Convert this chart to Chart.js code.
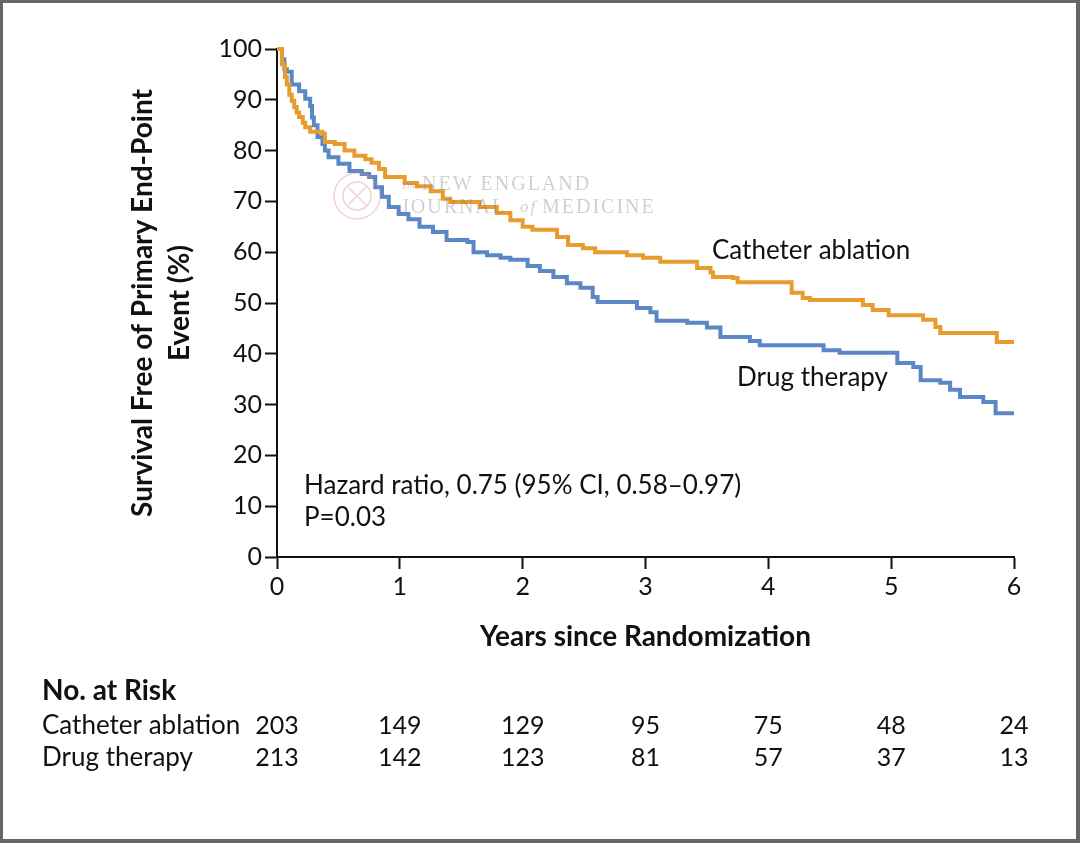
<!DOCTYPE html>
<html>
<head>
<meta charset="utf-8">
<script src="https://cdn.jsdelivr.net/npm/chart.js@4"></script>
<style>
  html, body { margin: 0; padding: 0; background: #fff; }
  #wrap { width: 1080px; height: 843px; }
</style>
</head>
<body>
<div id="wrap"><canvas id="km" width="1080" height="843"></canvas></div>
<script>
// Kaplan-Meier curves (years, % event-free)
let ablationTimes = [0, 0.04, 0.065, 0.08, 0.1, 0.12, 0.14, 0.16, 0.18, 0.21, 0.23, 0.27, 0.37, 0.39, 0.47, 0.55, 0.63, 0.72, 0.77, 0.83, 0.88, 1.04, 1.14, 1.25, 1.35, 1.41, 1.65, 1.79, 1.9, 2.0, 2.08, 2.28, 2.37, 2.49, 2.59, 2.85, 2.98, 3.12, 3.42, 3.53, 3.55, 3.71, 3.75, 4.19, 4.28, 4.34, 4.77, 4.85, 4.98, 5.26, 5.36, 5.4, 5.86, 6.0];
let ablationSurvival = [100, 97, 94.5, 93, 91, 89.8, 88.6, 87.5, 86.6, 85.5, 84.6, 83.7, 83.3, 81.7, 81.3, 80, 79, 78.3, 77.6, 76.4, 74.8, 73.6, 73.0, 72.0, 70.5, 69.9, 68.9, 67.7, 66.3, 65.0, 64.4, 63.0, 61.4, 60.8, 60.0, 59.4, 58.9, 58.1, 56.9, 56.0, 55.1, 54.9, 54.1, 52.0, 51.0, 50.6, 49.6, 48.6, 47.6, 46.7, 45.3, 44.1, 42.3, 42.3];

let drugTimes = [0, 0.04, 0.06, 0.08, 0.12, 0.18, 0.23, 0.27, 0.285, 0.3, 0.33, 0.37, 0.39, 0.42, 0.5, 0.59, 0.69, 0.75, 0.8, 0.855, 0.91, 0.99, 1.07, 1.16, 1.27, 1.38, 1.55, 1.6, 1.71, 1.82, 1.9, 2.04, 2.14, 2.25, 2.36, 2.47, 2.57, 2.61, 2.93, 3.04, 3.09, 3.34, 3.5, 3.61, 3.85, 3.93, 4.45, 4.58, 5.05, 5.18, 5.24, 5.4, 5.48, 5.56, 5.75, 5.85, 6.0];
let drugSurvival = [100, 98, 96, 95.5, 93, 91.7, 90.2, 88.8, 86.5, 85, 82.7, 81.3, 80, 78.7, 77.4, 76, 75.4, 74.8, 72.8, 70.9, 68.9, 67.5, 66.5, 65, 64, 62.4, 62, 60, 59.4, 58.9, 58.5, 57.3, 56.3, 55.1, 53.9, 53.0, 51.2, 50.2, 49.0, 48.2, 46.5, 46.1, 45.2, 43.3, 42.5, 41.7, 40.7, 40.2, 38.2, 37.4, 34.8, 34.3, 32.9, 31.5, 30.5, 28.3, 28.3];

// number at risk table
let riskYears = [0, 1, 2, 3, 4, 5, 6];
let ablationAtRisk = [203, 149, 129, 95, 75, 48, 24];
let drugAtRisk = [213, 142, 123, 81, 57, 37, 13];

let FONT = "Lato, 'Noto Sans', sans-serif";
let ORANGE = "#e89c30";
let BLUE = "#5b87c7";

function toPoints(xs, ys) {
  return xs.map((x, i) => ({ x: x, y: ys[i] }));
}

const extras = {
  id: "extras",
  beforeDraw(chart) {
    let ctx = chart.ctx;
    ctx.save();
    ctx.fillStyle = "#fff";
    ctx.fillRect(0, 0, chart.width, chart.height);
    ctx.restore();
  },
  afterDraw(chart) {
    let ctx = chart.ctx;
    let x = chart.scales.x;
    let area = chart.chartArea;
    ctx.save();

    // faint journal watermark
    ctx.globalAlpha = 0.4;
    ctx.strokeStyle = "#e58c8c";
    ctx.lineWidth = 1.5;
    ctx.beginPath();
    ctx.arc(357, 196, 23, 0, Math.PI * 2);
    ctx.stroke();
    ctx.beginPath();
    ctx.arc(357, 196, 14, 0, Math.PI * 2);
    ctx.stroke();
    ctx.beginPath();
    ctx.moveTo(348, 187); ctx.lineTo(366, 205);
    ctx.moveTo(366, 187); ctx.lineTo(348, 205);
    ctx.stroke();
    ctx.globalAlpha = 0.35;
    ctx.fillStyle = "#777";
    ctx.textBaseline = "middle";
    ctx.textAlign = "left";
    ctx.font = "italic 11px 'Liberation Serif', serif";
    ctx.fillText("The", 401, 186);
    ctx.letterSpacing = "2px";
    ctx.font = "20px 'Liberation Serif', serif";
    ctx.fillText("NEW ENGLAND", 422, 185);
    ctx.fillText("JOURNAL", 401, 208);
    ctx.font = "italic 17px 'Liberation Serif', serif";
    ctx.fillText("of", 520, 208);
    ctx.font = "20px 'Liberation Serif', serif";
    ctx.fillText("MEDICINE", 542, 208);
    ctx.letterSpacing = "0px";
    ctx.globalAlpha = 1;

    ctx.fillStyle = "#111";

    // curve labels and statistics
    ctx.font = "26px " + FONT;
    ctx.textAlign = "left";
    ctx.fillText("Catheter ablation", 712, 251);
    ctx.fillText("Drug therapy", 737, 378);
    ctx.fillText("Hazard ratio, 0.75 (95% CI, 0.58\u20130.97)", 304, 486);
    ctx.fillText("P=0.03", 304, 518);

    // axis titles
    ctx.font = "bold 28px " + FONT;
    ctx.textAlign = "center";
    ctx.fillText("Years since Randomization", (area.left + area.right) / 2, 637);
    ctx.save();
    ctx.translate(143, (area.top + area.bottom) / 2);
    ctx.rotate(-Math.PI / 2);
    ctx.fillText("Survival Free of Primary End-Point", 0, 0);
    ctx.fillText("Event (%)", 0, 37);
    ctx.restore();

    // number at risk
    ctx.textAlign = "left";
    ctx.font = "bold 28px " + FONT;
    ctx.fillText("No. at Risk", 42, 691);
    ctx.font = "26px " + FONT;
    ctx.fillText("Catheter ablation", 42, 726);
    ctx.fillText("Drug therapy", 42, 758);
    ctx.textAlign = "center";
    ctx.font = "25px " + FONT;
    riskYears.forEach((yr, i) => {
      let px = x.getPixelForValue(yr);
      ctx.fillText(String(ablationAtRisk[i]), px, 726);
      ctx.fillText(String(drugAtRisk[i]), px, 758);
    });

    // frame
    ctx.fillStyle = "#63676b";
    ctx.fillRect(0, 0, chart.width, 3);
    ctx.fillRect(0, 0, 3, chart.height);
    ctx.fillRect(chart.width - 4, 0, 4, chart.height);
    ctx.fillRect(0, chart.height - 4, chart.width, 4);
    ctx.restore();
  }
};

new Chart(document.getElementById("km"), {
  type: "line",
  data: {
    datasets: [
      {
        label: "Catheter ablation",
        data: toPoints(ablationTimes, ablationSurvival),
        borderColor: ORANGE,
        borderWidth: 4,
        stepped: true,
        pointRadius: 0,
        fill: false,
        clip: false
      },
      {
        label: "Drug therapy",
        data: toPoints(drugTimes, drugSurvival),
        borderColor: BLUE,
        borderWidth: 4,
        stepped: true,
        pointRadius: 0,
        fill: false,
        clip: false
      }
    ]
  },
  options: {
    responsive: false,
    animation: false,
    devicePixelRatio: 1,
    layout: { padding: { top: 49, right: 66, bottom: 0, left: 0 } },
    plugins: {
      legend: { display: false },
      tooltip: { enabled: false }
    },
    scales: {
      x: {
        type: "linear",
        min: 0,
        max: 6,
        ticks: { stepSize: 1, color: "#111", font: { family: FONT, size: 25 }, padding: 3 },
        grid: { drawOnChartArea: false, tickLength: 12, tickWidth: 2, tickColor: "#111" },
        border: { color: "#111", width: 2 },
        afterFit: s => { s.height = 286; }
      },
      y: {
        min: 0,
        max: 100,
        ticks: { stepSize: 10, color: "#111", font: { family: FONT, size: 25 }, padding: 3 },
        grid: { drawOnChartArea: false, tickLength: 12, tickWidth: 2, tickColor: "#111" },
        border: { color: "#111", width: 2 },
        afterFit: s => { s.width = 277; }
      }
    }
  },
  plugins: [extras]
});
</script>
</body>
</html>
